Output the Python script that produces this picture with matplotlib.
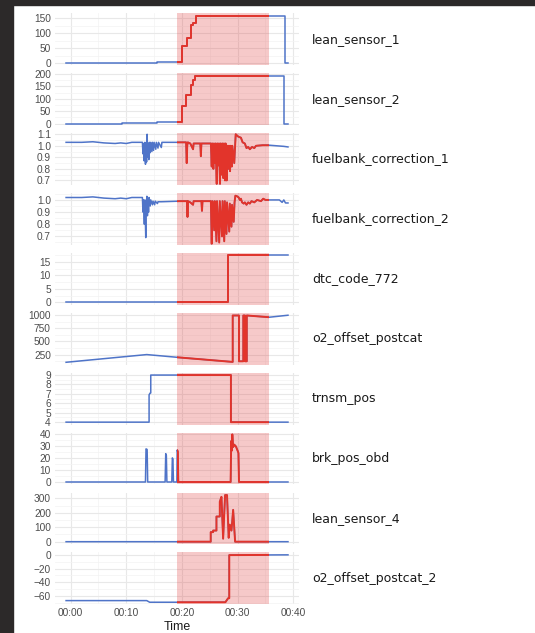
import numpy as np
import matplotlib
matplotlib.use("Agg")
import matplotlib.pyplot as plt
from matplotlib.patches import Rectangle

plt.rcParams["font.family"] = "Liberation Sans"

# ---- data (time in minutes) ----
t_lean1 = [-0.81, 15.48, 15.48, 19.96, 19.96, 20.86, 20.86, 21.63, 21.63, 22.05, 22.05, 22.48, 22.48, 38.51, 38.51, 39.05]
v_lean1 = [0, 0, 4, 4, 56, 56, 84, 84, 128, 128, 132, 132, 157, 157, 0, 0]

t_lean2 = [-0.81, 9.2, 9.2, 15.5, 15.5, 19.96, 19.96, 20.74, 20.74, 21.58, 21.58, 21.94, 21.94, 22.35, 22.35, 38.38, 38.38, 39.05]
v_lean2 = [0, 0, 2, 2, 6, 6, 70, 70, 114, 114, 155, 155, 175, 175, 191, 191, 0, 0]

t_fuel1 = [-0.81, 2, 4, 6, 8, 9, 10, 11, 12.5, 12.9, 13.0, 13.1, 13.2, 13.35, 13.45, 13.55, 13.65, 13.75,
           13.85, 13.95, 14.05, 14.15, 14.3, 14.4, 14.6, 14.7, 14.9, 15.0, 15.3, 15.4, 15.7, 15.8, 16.3, 16.4, 16.5,
           20.3, 20.75, 20.86, 20.95, 21.05, 21.5, 22.0, 22.1, 23.3, 23.4, 23.5, 25.2, 25.35, 25.45, 25.65, 25.75,
           25.95, 26.05, 26.25, 26.35, 26.55, 26.65, 26.84, 26.95, 27.15, 27.25, 27.43, 27.55, 27.75, 27.85, 28.04,
           28.15, 28.35, 28.45, 28.64, 28.75, 28.95, 29.05, 29.4, 29.55, 29.66, 30.1, 30.6, 30.9, 31.3, 31.6, 31.9,
           32.2, 32.6, 33.0, 33.3, 34.5, 35.69, 37.0, 38.3, 39.05]
v_fuel1 = [1.03, 1.03, 1.035, 1.025, 1.02, 1.025, 1.02, 1.03, 1.03, 1.03, 0.93, 1.02, 0.87, 1.03, 0.84, 1.0, 0.86, 1.1,
           0.9, 1.02, 0.88, 1.03, 0.94, 1.03, 0.95, 1.03, 0.96, 1.03, 0.97, 1.03, 0.98, 1.03, 0.985, 1.03, 1.03,
           1.03, 1.03, 0.85, 1.0, 1.03, 1.02, 0.97, 1.02, 1.02, 0.91, 1.02, 1.02, 0.82, 1.02, 0.8, 1.02,
           0.85, 1.02, 0.67, 1.02, 0.83, 1.02, 0.67, 1.02, 0.75, 1.02, 0.72, 1.02, 0.70, 1.02, 0.7,
           1.0, 0.8, 1.0, 0.78, 1.0, 0.82, 1.0, 0.85, 1.0, 1.1, 1.08, 1.07, 1.03, 1.02, 0.98, 0.99,
           0.97, 0.99, 0.98, 1.0, 1.005, 1.005, 1.0, 0.995, 0.99]

t_fuel2 = [-0.81, 2, 4, 6, 8, 9, 10, 11, 12.9, 13.0, 13.1, 13.25, 13.35, 13.5, 13.6, 13.7, 13.8, 13.9, 14.0,
           14.1, 14.3, 14.4, 14.7, 14.8, 15.1, 15.2, 15.6, 15.7, 16.3, 19.6, 20.3, 20.9, 21.0, 21.1, 21.5, 22.0,
           22.1, 23.5, 23.6, 23.7, 25.2, 25.35, 25.5, 25.8, 25.9, 26.2, 26.3, 26.7, 26.8, 27.2, 27.3, 27.6, 27.7,
           28.0, 28.1, 28.5, 28.6, 28.9, 29.0, 29.3, 29.45, 29.6, 29.9, 30.2, 30.4, 30.6, 30.8, 31.1, 31.3, 31.6,
           31.9, 32.2, 32.5, 33.0, 33.5, 34.2, 34.6, 35.0, 35.69, 37.5, 38.0, 38.3, 38.6, 39.05]
v_fuel2 = [1.02, 1.02, 1.025, 1.015, 1.01, 1.015, 1.01, 1.02, 1.02, 0.9, 1.0, 0.8, 1.0, 0.69, 0.95, 1.03, 0.87, 1.0, 0.9,
           1.02, 0.95, 1.0, 0.96, 0.99, 0.96, 0.99, 0.97, 0.985, 0.985, 0.99, 0.99, 0.99, 0.86, 0.99, 0.98, 0.96,
           0.99, 0.99, 0.91, 0.99, 0.99, 0.64, 0.99, 0.75, 0.99, 0.66, 0.99, 0.65, 0.99, 0.7, 0.99, 0.66, 0.99,
           0.72, 0.98, 0.74, 0.97, 0.78, 0.96, 0.82, 0.98, 1.035, 1.03, 1.02, 1.0, 1.01, 0.98, 0.97, 0.98, 0.96,
           0.98, 0.97, 0.99, 0.98, 1.0, 0.99, 1.01, 1.0, 1.0, 1.0, 0.98, 1.0, 0.975, 0.975]

t_dtc = [-0.81, 28.33, 28.33, 39.05]
v_dtc = [0, 0, 17.7, 17.7]

t_o2 = [-0.81, 13.68, 19.07, 29.12, 29.12, 30.25, 30.25, 31.02, 31.02, 31.33, 31.33, 31.65, 31.65, 35.69, 39.05]
v_o2 = [104, 250, 199, 111, 991, 991, 123, 123, 991, 991, 123, 123, 991, 958, 996]

t_trn = [-0.81, 14.1, 14.1, 14.3, 14.4, 14.4, 28.8, 28.8, 39.05]
v_trn = [4, 4, 6.9, 7.1, 7.1, 9, 9, 4, 4]

t_brk = [-0.81, 13.45, 13.55, 13.75, 13.85, 16.98, 17.09, 17.2, 17.3, 18.18, 18.28, 18.38, 18.48, 19.09, 19.15,
         19.25, 19.35, 28.75, 28.85, 28.95, 29.05, 29.2, 29.4, 29.7, 30.0, 30.15, 30.25, 39.05]
v_brk = [0, 0, 27.5, 27, 0, 0, 23.5, 22, 0, 0, 20, 19, 0, 0, 26.5,
         25, 0, 0, 34, 26, 39.5, 29, 31, 29.5, 26, 24, 0, 0]

t_lean4 = [-0.81, 25.17, 25.17, 25.6, 25.6, 26.2, 26.2, 26.8, 26.8, 27.1, 27.4, 27.75, 28.1, 28.4, 28.6, 28.9, 29.2, 29.55, 39.05]
v_lean4 = [0, 0, 66, 66, 77, 77, 174, 174, 276, 310, 21, 322, 322, 27, 118, 77, 220, 0, 0]

t_o2b = [-0.81, 13.68, 14.2, 27.8, 28.3, 28.5, 28.5, 39.05]
v_o2b = [-67.2, -67.2, -69.6, -69.6, -63.7, -63.7, -0.2, 0.2]

names = ["lean_sensor_1", "lean_sensor_2", "fuelbank_correction_1", "fuelbank_correction_2",
         "dtc_code_772", "o2_offset_postcat", "trnsm_pos", "brk_pos_obd", "lean_sensor_4",
         "o2_offset_postcat_2"]
series_t = [t_lean1, t_lean2, t_fuel1, t_fuel2, t_dtc, t_o2, t_trn, t_brk, t_lean4, t_o2b]
series_v = [v_lean1, v_lean2, v_fuel1, v_fuel2, v_dtc, v_o2, v_trn, v_brk, v_lean4, v_o2b]
ylims = [(-7, 166), (-6, 203), (0.661, 1.11), (0.631, 1.057), (-0.9, 18.4),
         (60, 1042), (3.75, 9.25), (-2, 41), (-18, 340), (-72.5, 3.8)]
yticks = [[0, 50, 100, 150], [0, 50, 100, 150, 200], [0.7, 0.8, 0.9, 1.0, 1.1], [0.7, 0.8, 0.9, 1.0],
          [0, 5, 10, 15], [250, 500, 750, 1000], [4, 5, 6, 7, 8, 9], [0, 10, 20, 30, 40],
          [0, 100, 200, 300], [-60, -40, -20, 0]]
xticks = [0, 10, 20, 30, 40]
xlabels = ["00:00", "00:10", "00:20", "00:30", "00:40"]
shade = (19.07, 35.69)

blue = "#4f74c8"
red = "#e2342b"

W, H = 535, 633
fig = plt.figure(figsize=(W / 100, H / 100), dpi=100)

# dark screenshot border (top and left)
fig.patches.append(Rectangle((0, 1 - 5 / H), 1, 5 / H, transform=fig.transFigure, color="#2c2929", zorder=0))
fig.patches.append(Rectangle((0, 0), 13 / W, 1, transform=fig.transFigure, color="#2c2929", zorder=0))

left, right = 55, 299.4
for i in range(len(names)):
    top = 13.3 + 59.9 * i
    ax = fig.add_axes([left / W, 1 - (top + 51.8) / H, (right - left) / W, 51.8 / H])
    ax.set_xlim(-2.8, 41.1)
    ax.set_ylim(*ylims[i])
    for s in ax.spines.values():
        s.set_visible(False)

    yt = yticks[i]
    if i in (2, 3):
        yl = ["%.1f" % y for y in yt]
    else:
        yl = ["%d" % y if y >= 0 else "\u2212%d" % -y for y in yt]
    ax.set_yticks(yt, yl)
    step = yt[1] - yt[0]
    ax.set_yticks([y + step / 2 for y in [yt[0] - step] + yt], minor=True)
    ax.set_xticks(xticks)
    ax.set_xticks([5, 15, 25, 35], minor=True)
    ax.set_ylim(*ylims[i])

    ax.grid(which="major", color="#e8e8e8", lw=0.8)
    ax.grid(which="minor", color="#f3f3f3", lw=0.5)
    ax.set_axisbelow(True)
    ax.tick_params(which="both", length=0, labelsize=7.3, labelcolor="#4d4d4d", pad=3)

    span = ax.axvspan(shade[0], shade[1], color="#e03a3a", alpha=0.27, lw=0, zorder=1)
    ax.plot(series_t[i], series_v[i], color=blue, lw=1.1, zorder=2)
    ln, = ax.plot(series_t[i], series_v[i], color=red, lw=1.4, zorder=3)
    ln.set_clip_path(span)

    ax.text(1 + (312 - right) / (right - left), 0.5, names[i], transform=ax.transAxes,
            ha="left", va="center", fontsize=9, family="DejaVu Sans", color="#1a1a1a")

    if i < len(names) - 1:
        ax.tick_params(labelbottom=False)
    else:
        ax.set_xticklabels(xlabels)

fig.text((left + right) / 2 / W, 1 - 626.5 / H, "Time", ha="center", va="center", fontsize=8.9, color="#1a1a1a")

fig.savefig("out.png", dpi=100)
